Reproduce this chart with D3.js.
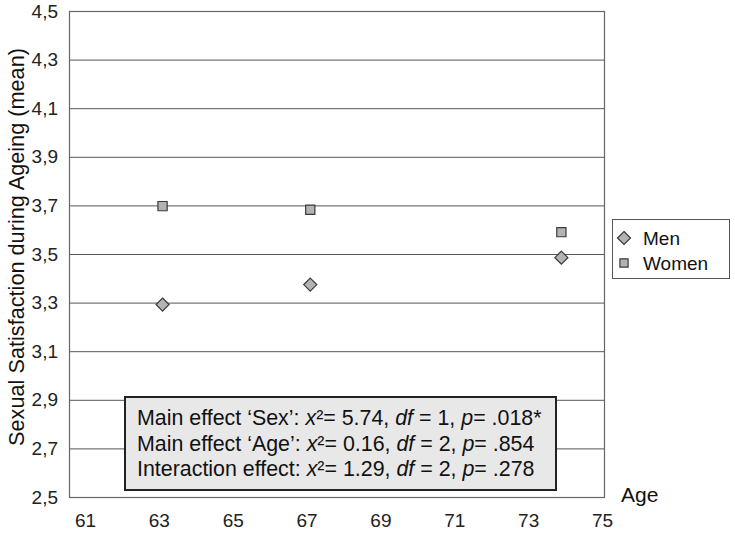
<!DOCTYPE html>
<html>
<head>
<meta charset="utf-8">
<script src="https://cdn.jsdelivr.net/npm/d3@7"></script>
<style>
  html, body { margin: 0; padding: 0; background: #fff; }
  svg { display: block; font-family: "Liberation Sans", Arial, sans-serif; }
</style>
</head>
<body>
<svg id="chart" width="735" height="533"></svg>
<script>
const ages = [63.1, 67.1, 73.9];
const menValues = [3.292, 3.374, 3.485];
const womenValues = [3.697, 3.682, 3.59];
const seriesNames = ["Men", "Women"];
const yTicks = [2.5, 2.7, 2.9, 3.1, 3.3, 3.5, 3.7, 3.9, 4.1, 4.3, 4.5];
const xTicks = [61, 63, 65, 67, 69, 71, 73, 75];
const statLines = [
  [["Main effect ‘Sex’: ", ""], ["x", "i"], ["²= 5.74, ", ""], ["df", "i"], [" = 1, ", ""], ["p", "i"], ["= .018*", ""]],
  [["Main effect ‘Age’: ", ""], ["x", "i"], ["²= 0.16, ", ""], ["df", "i"], [" = 2, ", ""], ["p", "i"], ["= .854", ""]],
  [["Interaction effect: ", ""], ["x", "i"], ["²= 1.29, ", ""], ["df", "i"], [" = 2, ", ""], ["p", "i"], ["= .278", ""]]
];

const svg = d3.select("#chart");
const plot = { left: 69, right: 604, top: 11, bottom: 497 };
const FONT = "Liberation Sans, Arial, sans-serif";

const x = d3.scaleLinear().domain([61, 75]).range([85, 602]);
const y = d3.scaleLinear().domain([2.5, 4.5]).range([plot.bottom, plot.top]);

// gridlines
svg.append("g").selectAll("line").data(yTicks).join("line")
  .attr("x1", plot.left).attr("x2", plot.right)
  .attr("y1", d => y(d) + 0.5).attr("y2", d => y(d) + 0.5)
  .attr("stroke", "#555").attr("stroke-width", 1);

// plot frame
svg.append("rect")
  .attr("x", plot.left + 0.5).attr("y", plot.top + 0.5)
  .attr("width", plot.right - plot.left).attr("height", plot.bottom - plot.top)
  .attr("fill", "none").attr("stroke", "#666").attr("stroke-width", 1.2);

// y axis
const yAxis = svg.append("g")
  .attr("transform", `translate(${plot.left},0)`)
  .call(d3.axisLeft(y).tickValues(yTicks).tickSize(0).tickPadding(11)
    .tickFormat(d => d3.format(".1f")(d).replace(".", ",")));
yAxis.select(".domain").remove();
yAxis.attr("font-size", 19).attr("font-family", FONT);
yAxis.selectAll("text").attr("fill", "#222");

// x axis
const xAxis = svg.append("g")
  .attr("transform", `translate(0,${plot.bottom})`)
  .call(d3.axisBottom(x).tickValues(xTicks).tickSize(0).tickPadding(17)
    .tickFormat(d3.format("d")));
xAxis.select(".domain").remove();
xAxis.attr("font-size", 19).attr("font-family", FONT);
xAxis.selectAll("text").attr("fill", "#222");

// axis titles
svg.append("text")
  .attr("transform", `translate(16,${(plot.top + plot.bottom) / 2 - 7}) rotate(-90)`)
  .attr("text-anchor", "middle").attr("dominant-baseline", "central")
  .attr("font-size", 21.7).attr("fill", "#111")
  .text("Sexual Satisfaction during Ageing (mean)");
svg.append("text")
  .attr("x", 621).attr("y", 502)
  .attr("font-size", 21).attr("fill", "#111")
  .text("Age");

// markers
const diamond = d3.symbol().type(d3.symbolDiamond2).size(108);
const square = d3.symbol().type(d3.symbolSquare2).size(108);
const markerFill = "#b3b3b3", markerStroke = "#3a3a3a";

svg.append("g").selectAll("path").data(ages.map((a, i) => ({ a, v: womenValues[i] })))
  .join("path")
  .attr("d", square)
  .attr("transform", d => `translate(${x(d.a)},${y(d.v)})`)
  .attr("fill", markerFill).attr("stroke", markerStroke).attr("stroke-width", 1.2);

svg.append("g").selectAll("path").data(ages.map((a, i) => ({ a, v: menValues[i] })))
  .join("path")
  .attr("d", diamond)
  .attr("transform", d => `translate(${x(d.a)},${y(d.v)})`)
  .attr("fill", markerFill).attr("stroke", markerStroke).attr("stroke-width", 1.2);

// legend
const lg = svg.append("g");
lg.append("rect").attr("x", 612.5).attr("y", 219.5).attr("width", 117).attr("height", 59)
  .attr("fill", "#fff").attr("stroke", "#555").attr("stroke-width", 1);
const legendSymbols = [diamond, d3.symbol().type(d3.symbolSquare2).size(85)];
seriesNames.forEach((name, i) => {
  const cy = 238 + i * 25;
  lg.append("path").attr("d", legendSymbols[i])
    .attr("transform", `translate(624,${cy})`)
    .attr("fill", markerFill).attr("stroke", markerStroke).attr("stroke-width", 1.2);
  lg.append("text").attr("x", 643).attr("y", cy).attr("dominant-baseline", "central")
    .attr("font-size", 19).attr("fill", "#111").text(name);
});

// stats box
const sb = svg.append("g");
sb.append("rect").attr("x", 125).attr("y", 397).attr("width", 431).attr("height", 93)
  .attr("fill", "#e8e8e8").attr("stroke", "#222").attr("stroke-width", 2);
statLines.forEach((parts, i) => {
  const t = sb.append("text").attr("x", 137).attr("y", 425 + i * 25.5)
    .attr("font-size", 21.4).attr("fill", "#111");
  parts.forEach(([txt, style]) => {
    t.append("tspan").attr("font-style", style === "i" ? "italic" : "normal").text(txt);
  });
});
</script>
</body>
</html>
